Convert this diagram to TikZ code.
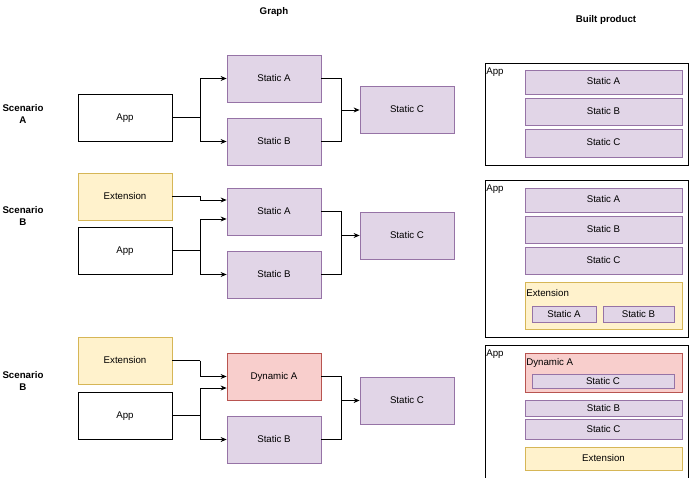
\documentclass[tikz,border=0pt]{standalone}
\usepackage{fontspec}
\setmainfont{Liberation Sans}
\usetikzlibrary{calc,arrows.meta}
\definecolor{pfill}{HTML}{E1D5E7}
\definecolor{pline}{HTML}{9673A6}
\definecolor{yfill}{HTML}{FFF2CC}
\definecolor{yline}{HTML}{D6B656}
\definecolor{rfill}{HTML}{F8CECC}
\definecolor{rline}{HTML}{B85450}
\tikzset{
  box/.style={draw=black, line width=0.8pt, fill=white, inner sep=0pt, text height=7pt, text depth=1pt, font=\fontsize{9.7}{11}\selectfont},
  gbox/.style={box, minimum width=94pt, minimum height=47pt},
  purp/.style={gbox, draw=pline, fill=pfill},
  yel/.style={gbox, draw=yline, fill=yfill},
  red/.style={gbox, draw=rline, fill=rfill},
  plain/.style={gbox},
  ttl/.style={font=\bfseries\fontsize{9.7}{11.5}\selectfont, align=center, inner sep=0pt},
  lbl/.style={font=\fontsize{9.7}{11}\selectfont, inner sep=0pt, anchor=west},
  wire/.style={line width=0.8pt, draw=black},
  arr/.style={wire, -{Stealth[length=6pt,width=5pt]}},
  inbox/.style={draw=pline, fill=pfill, line width=0.8pt, inner sep=0pt, text height=7pt, text depth=1pt, font=\fontsize{9.7}{11}\selectfont},
}
\begin{document}
\begin{tikzpicture}[x=1pt,y=-1pt]
\clip (0,0) rectangle (690,478);
\fill[white] (0,0) rectangle (690,478);

% titles
\node[ttl] (tgraph) at (274,12) {Graph};
\node[ttl] (tbuilt) at (606,20) {Built product};
\node[ttl] (scA) at (23,114) {Scenario\\A};
\node[ttl] (scB) at (23,216) {Scenario\\B};
\node[ttl] (scB2) at (23,381) {Scenario\\B};

% ---------- Scenario A ----------
\node[plain] (app1) at (125,117.5) {App};
\node[purp] (sa1) at (274,78.5) {Static A};
\node[purp] (sb1) at (274,141.5) {Static B};
\node[purp] (sc1) at (407,110) {Static C};
\coordinate (j1) at (200,117.5);
\coordinate (k1) at (341,110);
\draw[wire] (app1.east) -- (j1);
\draw[arr] (j1) |- (sa1.west);
\draw[arr] (j1) |- (sb1.west);
\draw[wire] (sa1.east) -| (k1);
\draw[wire] (sb1.east) -| (k1);
\draw[arr] (k1) -- (sc1.west);

% ---------- Scenario B ----------
\node[yel] (ext2) at (125,196.5) {Extension};
\node[plain] (app2) at (125,250.5) {App};
\node[purp] (sa2) at (274,211.5) {Static A};
\node[purp] (sb2) at (274,274.5) {Static B};
\node[purp] (sc2) at (407,235.5) {Static C};
\coordinate (e2) at (200,196.5);
\coordinate (j2) at (200,250.5);
\coordinate (k2) at (341,235.5);
\draw[wire] (ext2.east) -- (e2);
\draw[arr] (e2) |- ($(sa2.west)+(0,-11.5)$);
\draw[wire] (app2.east) -- (j2);
\draw[arr] (j2) |- ($(sa2.west)+(0,7.5)$);
\draw[arr] (j2) |- (sb2.west);
\draw[wire] (sa2.east) -| (k2);
\draw[wire] (sb2.east) -| (k2);
\draw[arr] (k2) -- (sc2.west);

% ---------- Scenario B (dynamic) ----------
\node[yel] (ext3) at (125,360.5) {Extension};
\node[plain] (app3) at (125,415.5) {App};
\node[red] (da3) at (274,376.5) {Dynamic A};
\node[purp] (sb3) at (274,439.5) {Static B};
\node[purp] (sc3) at (407,400.5) {Static C};
\coordinate (e3) at (200,360.5);
\coordinate (j3) at (200,415.5);
\coordinate (k3) at (341,400.5);
\draw[wire] (ext3.east) -- (e3);
\draw[arr] (e3) |- (da3.west);
\draw[wire] (app3.east) -- (j3);
\draw[arr] (j3) |- ($(da3.west)+(0,11.5)$);
\draw[arr] (j3) |- (sb3.west);
\draw[wire] (da3.east) -| (k3);
\draw[wire] (sb3.east) -| (k3);
\draw[arr] (k3) -- (sc3.west);

% ---------- Built product 1 ----------
\node[box, minimum width=203pt, minimum height=102pt] (bp1) at (586.5,114) {};
\node[lbl] (bp1l) at ($(bp1.north west)+(1.5,10)$) {App};
\node[inbox, minimum width=157pt, minimum height=24pt] (bp1a) at (603.5,82) {Static A};
\node[inbox, minimum width=157pt, minimum height=27pt] (bp1b) at (603.5,111.5) {Static B};
\node[inbox, minimum width=157pt, minimum height=28pt] (bp1c) at (603.5,143) {Static C};

% ---------- Built product 2 ----------
\node[box, minimum width=203pt, minimum height=157pt] (bp2) at (586.5,258.5) {};
\node[lbl] (bp2l) at ($(bp2.north west)+(1.5,10)$) {App};
\node[inbox, minimum width=157pt, minimum height=24pt] (bp2a) at (603.5,200) {Static A};
\node[inbox, minimum width=157pt, minimum height=27pt] (bp2b) at (603.5,229.5) {Static B};
\node[inbox, minimum width=157pt, minimum height=27pt] (bp2c) at (603.5,260.5) {Static C};
\node[box, draw=yline, fill=yfill, minimum width=157pt, minimum height=47pt] (bp2e) at (603.5,305.5) {};
\node[lbl] (bp2el) at ($(bp2e.north west)+(1.5,11)$) {Extension};
\node[inbox, minimum width=64pt, minimum height=16pt] (bp2ea) at (564,314) {Static A};
\node[inbox, minimum width=71pt, minimum height=16pt] (bp2eb) at (638.5,314) {Static B};

% ---------- Built product 3 ----------
\node[box, minimum width=203pt, minimum height=150pt] (bp3) at (586.5,420) {};
\node[lbl] (bp3l) at ($(bp3.north west)+(1.5,10)$) {App};
\node[box, draw=rline, fill=rfill, minimum width=157pt, minimum height=39pt] (bp3d) at (603.5,372.5) {};
\node[lbl] (bp3dl) at ($(bp3d.north west)+(1.5,10)$) {Dynamic A};
\node[inbox, minimum width=142pt, minimum height=14pt] (bp3dc) at (603,381) {Static C};
\node[inbox, minimum width=157pt, minimum height=16pt] (bp3b) at (603.5,408) {Static B};
\node[inbox, minimum width=157pt, minimum height=20pt] (bp3c) at (603.5,429) {Static C};
\node[box, draw=yline, fill=yfill, minimum width=157pt, minimum height=23pt] (bp3e) at (603.5,458.5) {Extension};
\end{tikzpicture}
\end{document}
